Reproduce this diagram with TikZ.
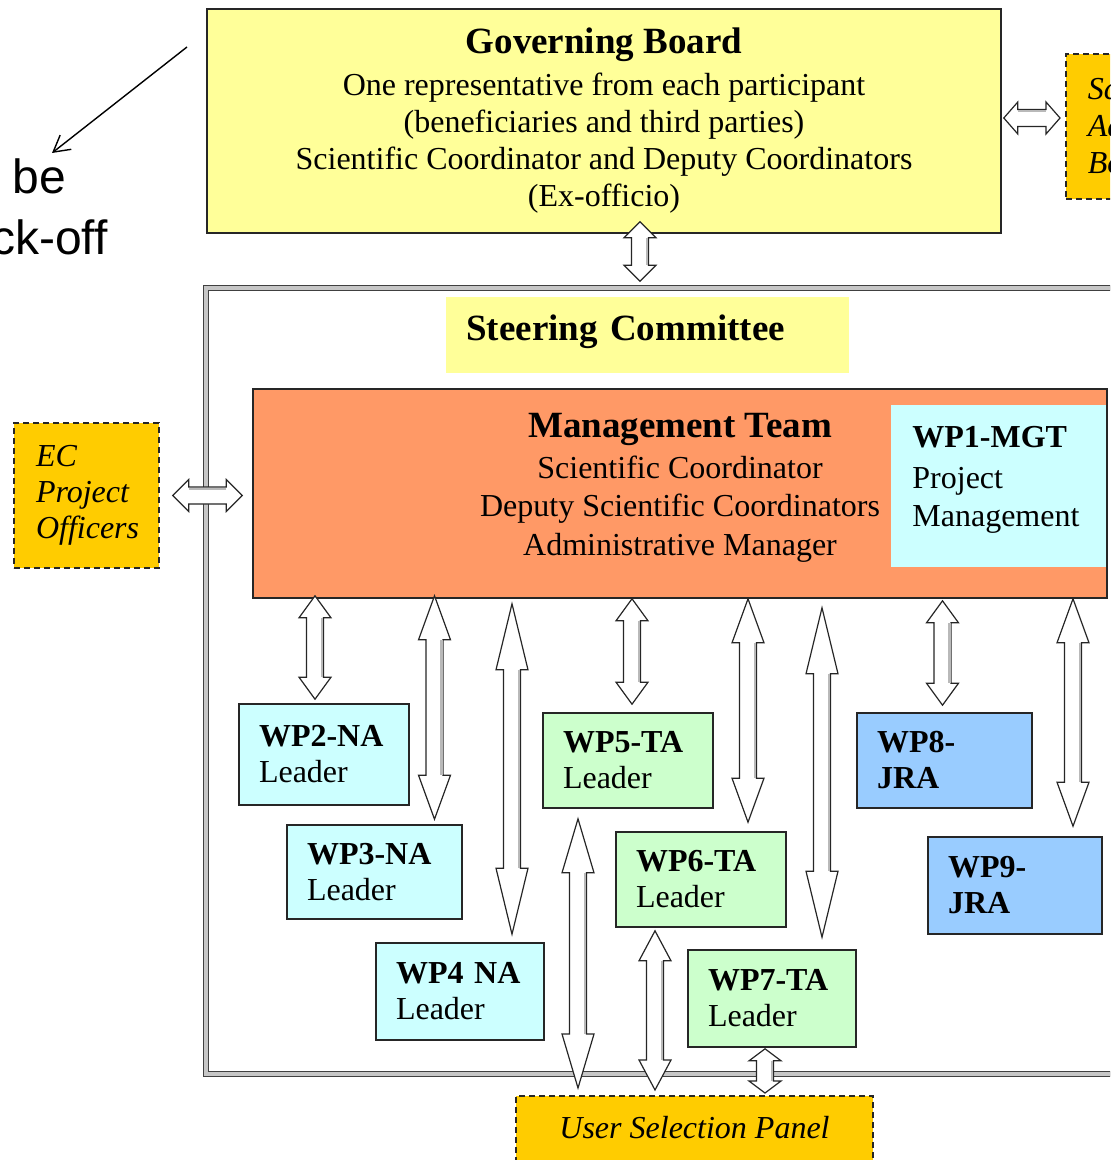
\documentclass[tikz,border=0pt]{standalone}
\usepackage{fontspec}
\setmainfont{Liberation Serif}
\newfontfamily\notefont{Liberation Sans}
\usetikzlibrary{calc,arrows.meta}

\definecolor{boardyellow}{HTML}{FFFF99}
\definecolor{mgtorange}{HTML}{FF9966}
\definecolor{nacyan}{HTML}{CCFFFF}
\definecolor{tagreen}{HTML}{CCFFCC}
\definecolor{jrablue}{HTML}{99CCFF}
\definecolor{extorange}{HTML}{FFCC00}

\tikzset{
  plainbox/.style={draw=black!85, line width=0.8pt},
  wpbox/.style={plainbox, text width=#1, inner xsep=10pt, minimum height=48pt,
    align=left, font=\fontsize{16}{18}\selectfont},
  wpbox/.default=65pt,
  dashbox/.style={draw=black!85, line width=0.8pt, dash pattern=on 3pt off 2pt,
    fill=extorange},
  blockarrow/.style={fill=white, draw=black!85, line width=0.6pt},
  arrowshade/.style={gray!55, line width=1.2pt},
}

% hollow double-headed block arrow between two points
\newcommand\bigarrow[3][11pt]{%
  \coordinate (arrS) at (#2);
  \coordinate (arrE) at (#3);
  \filldraw[blockarrow] (arrS)
    -- ($(arrS)!#1!(arrE)!8pt!90:(arrE)$)
    -- ($(arrS)!#1!(arrE)!4.25pt!90:(arrE)$)
    -- ($(arrE)!#1!(arrS)!4.25pt!270:(arrS)$)
    -- ($(arrE)!#1!(arrS)!8pt!270:(arrS)$)
    -- (arrE)
    -- ($(arrE)!#1!(arrS)!8pt!90:(arrS)$)
    -- ($(arrE)!#1!(arrS)!4.25pt!90:(arrS)$)
    -- ($(arrS)!#1!(arrE)!4.25pt!270:(arrE)$)
    -- ($(arrS)!#1!(arrE)!8pt!270:(arrE)$)
    -- cycle;
  \draw[arrowshade] ($(arrS)!#1!(arrE)!3.4pt!90:(arrE)$) -- ($(arrE)!#1!(arrS)!3.4pt!270:(arrS)$);
}

\begin{document}
\begin{tikzpicture}[x=0.5pt,y=-0.5pt]
\useasboundingbox (0,0) rectangle (1110,1160);
\clip (0,0) rectangle (1110,1160);

% note on the left
\node[anchor=base west, inner sep=0pt, font=\notefont\fontsize{24}{28}\selectfont] (notebe) at (12,194) {be};
\node[anchor=base east, inner sep=0pt, font=\notefont\fontsize{24}{28}\selectfont] (notekick) at (108,255) {ck-off};
\coordinate (notefrom) at (187,47);
\coordinate (noteto) at (52,153);
\draw[line width=0.7pt, -{Straight Barb[length=8pt,width=9pt]}] (notefrom) -- (noteto);

% governing board
\node[plainbox, fill=boardyellow, minimum width=397pt, minimum height=112pt, align=center,
  font=\fontsize{16}{18.5}\selectfont] (gb) at (604,121)
  {{\fontsize{18.5}{20}\selectfont\bfseries Governing Board}\\[2.5pt]
   One representative from each participant\\
   (beneficiaries and third parties)\\
   Scientific Coordinator and Deputy Coordinators\\
   (Ex-officio)};
\node[dashbox, anchor=north west, text width=80pt, inner xsep=11pt, minimum height=72.5pt,
  align=left, font=\fontsize{16}{18.5}\selectfont\itshape] (sab) at (1065,53) {Sc\\Ad\\Bo};

% steering committee frame
\node[draw=black!75, double=gray!45, double distance=1.6pt, line width=0.7pt,
  minimum width=462pt, minimum height=393pt] (steer) at (668,681) {};
\node[fill=boardyellow, anchor=north west, inner xsep=10pt, inner ysep=0pt, text width=181.5pt,
  text height=21.5pt, text depth=16.5pt, font=\fontsize{18.5}{20}\selectfont\bfseries] (stc)
  at (446,297) {Steering Committee};

% management team
\node[plainbox, fill=mgtorange, minimum width=427pt, minimum height=104.5pt] (mgt) at (680,493.5) {};
\node[align=center, font=\fontsize{16}{19.25}\selectfont] (mgttext) at (680,488)
  {{\fontsize{18.5}{20}\selectfont\bfseries Management Team}\\[1pt]
   Scientific Coordinator\\
   Deputy Scientific Coordinators\\
   Administrative Manager};
\node[fill=nacyan, minimum width=107.5pt, minimum height=81pt] (wp1) at (998.5,486) {};
\node[anchor=west, align=left, inner sep=0pt, font=\fontsize{16}{19}\selectfont] (wp1text) at (912,480)
  {\textbf{WP1-MGT}\\[1.5pt] Project\\ Management};

\node[dashbox, text width=50.5pt, inner xsep=11pt, minimum height=72.5pt, align=left,
  font=\fontsize{16}{18}\selectfont\itshape] (ec) at (86.5,495.5) {EC\\Project\\Officers};

% work packages
\node[wpbox, fill=nacyan, minimum height=50.5pt] (wp2) at (324,754.5) {\textbf{WP2-NA}\\Leader};
\node[wpbox=67.5pt, fill=nacyan, minimum height=47pt] (wp3) at (374.5,872) {\textbf{WP3-NA}\\Leader};
\node[wpbox=64pt, fill=nacyan, minimum height=48.5pt] (wp4) at (460,991.5) {\textbf{WP4 NA}\\Leader};
\node[wpbox, fill=tagreen, minimum height=47.5pt] (wp5) at (628,760.5) {\textbf{WP5-TA}\\Leader};
\node[wpbox, fill=tagreen, minimum height=47.5pt] (wp6) at (701,879.5) {\textbf{WP6-TA}\\Leader};
\node[wpbox=64pt, fill=tagreen, minimum height=48.5pt] (wp7) at (772,998.5) {\textbf{WP7-TA}\\Leader};
\node[wpbox=67.5pt, fill=jrablue, minimum height=47.5pt] (wp8) at (944.5,760.5) {\textbf{WP8-}\\\textbf{JRA}};
\node[wpbox=67pt, fill=jrablue, minimum height=48.5pt] (wp9) at (1015,885.5) {\textbf{WP9-}\\\textbf{JRA}};

\node[dashbox, anchor=north, minimum width=178.5pt, inner ysep=0pt, text height=21.5pt,
  text depth=21pt, font=\fontsize{16}{18}\selectfont\itshape] (usp) at (694.5,1095) {User Selection Panel};

% block arrows
\bigarrow[8pt]{$(gb.south)+(36,-12)$}{$(steer.north -| gb.south)+(36,-6)$}
\bigarrow[7pt]{$(gb.east)+(2,-3)$}{$(gb.east -| sab.west)+(-5,-3)$}
\bigarrow[8pt]{$(ec.east)+(13,0)$}{$(ec.east -| mgt.west)+(-10,0)$}
\bigarrow{$(mgt.south -| wp2.north)+(-9,-3)$}{$(wp2.north)+(-9,-4)$}
\bigarrow[22pt]{$(mgt.south -| wp3.north)+(60,-3)$}{$(wp3.north)+(60,-5)$}
\bigarrow[33pt]{$(mgt.south -| wp4.north)+(52,5)$}{$(wp4.north)+(52,-8)$}
\bigarrow{$(mgt.south -| wp5.north)+(4,0)$}{$(wp5.north)+(4,-8)$}
\bigarrow[22pt]{$(mgt.south -| wp6.north)+(47,0)$}{$(wp6.north)+(47,-9)$}
\bigarrow[33pt]{$(mgt.south -| wp7.north)+(50,9)$}{$(wp7.north)+(50,-12)$}
\bigarrow{$(mgt.south -| wp8.north)+(-2,2)$}{$(wp8.north)+(-2,-7)$}
\bigarrow[22pt]{$(mgt.south -| wp9.north)+(58,0)$}{$(wp9.north)+(58,-10)$}
\bigarrow[27pt]{$(wp5.south)+(-50,10)$}{$(usp.north -| wp5.south)+(-50,-7)$}
\bigarrow[15pt]{$(wp6.south)+(-46,3)$}{$(usp.north -| wp6.south)+(-46,-5)$}
\bigarrow[6pt]{$(wp7.south)+(-7,1)$}{$(usp.north -| wp7.south)+(-7,-2)$}
\end{tikzpicture}
\end{document}
